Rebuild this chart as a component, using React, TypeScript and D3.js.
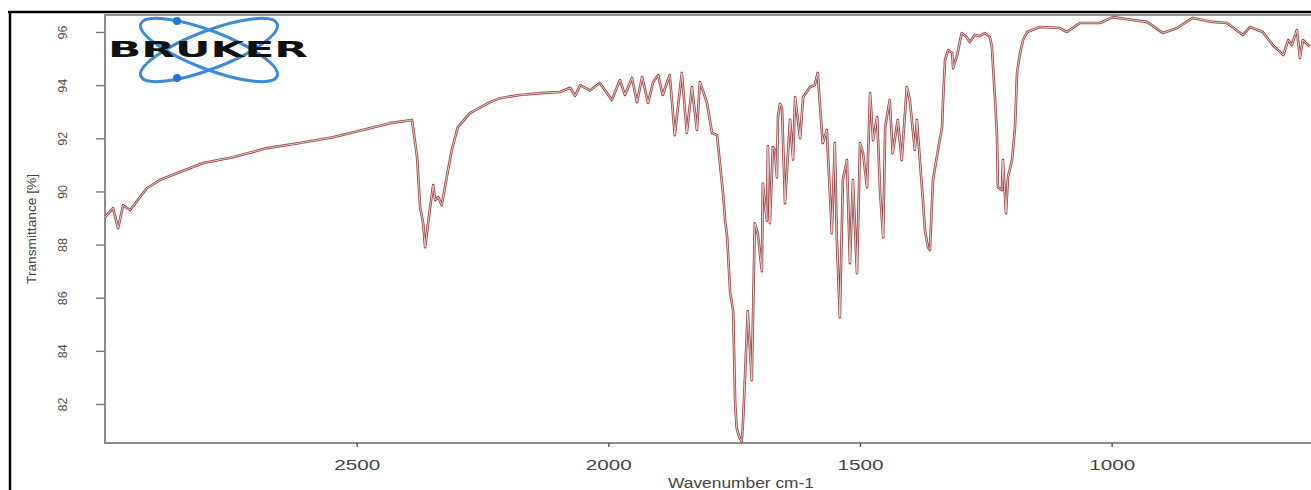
import React, { useEffect, useRef } from 'react'
import * as d3 from 'd3'

// wavenumber (cm-1) / transmittance (%)
const wavenumber = [
  3000, 2984, 2974, 2964, 2950, 2917, 2891, 2851, 2805, 2746, 2678, 2613, 2547, 2480, 2434,
  2390, 2380, 2374, 2368, 2364, 2358, 2354, 2348, 2344, 2338, 2331, 2321, 2311, 2299, 2275,
  2235, 2215, 2176, 2135, 2096, 2076, 2066, 2056, 2037, 2017, 1993, 1977, 1967, 1953, 1943,
  1933, 1921, 1911, 1901, 1892, 1878, 1868, 1854, 1844, 1834, 1824, 1818, 1804, 1794, 1784,
  1778, 1772, 1768, 1764, 1758, 1752, 1748, 1745, 1739, 1735, 1733, 1729, 1723, 1715, 1713,
  1709, 1703, 1695, 1693, 1685, 1683, 1679, 1673, 1669, 1665, 1663, 1659, 1655, 1649, 1639,
  1633, 1629, 1619, 1613, 1599, 1590, 1584, 1576, 1574, 1566, 1556, 1550, 1546, 1540, 1534,
  1526, 1520, 1514, 1506, 1500, 1494, 1486, 1480, 1474, 1466, 1460, 1454, 1450, 1441, 1435,
  1425, 1417, 1407, 1401, 1391, 1387, 1381, 1375, 1371, 1365, 1361, 1355, 1345, 1337, 1335,
  1331, 1325, 1317, 1315, 1307, 1298, 1288, 1282, 1272, 1262, 1252, 1242, 1238, 1232, 1228,
  1226, 1218, 1216, 1210, 1206, 1198, 1192, 1188, 1182, 1176, 1168, 1143, 1103, 1089, 1063,
  1023, 998, 958, 930, 898, 870, 839, 799, 771, 739, 725, 700, 680, 659, 649,
  642, 632, 626, 620, 606,
]
const transmittance = [
  89.03, 89.37, 88.62, 89.48, 89.3, 90.12, 90.43, 90.73, 91.07, 91.29, 91.63, 91.82, 92.04, 92.35, 92.57,
  92.69, 91.29, 89.41, 88.81, 87.9, 88.81, 89.41, 90.24, 89.67, 89.79, 89.48, 90.54, 91.56, 92.42, 92.95,
  93.36, 93.51, 93.63, 93.7, 93.74, 93.9, 93.6, 94.0, 93.8, 94.08, 93.44, 94.19, 93.63, 94.27, 93.36,
  94.31, 93.33, 94.12, 94.38, 93.63, 94.38, 92.12, 94.46, 92.2, 93.93, 92.31, 94.12, 93.33, 92.2, 92.12,
  91.0, 89.9, 88.9, 88.3, 86.2, 85.5, 82.0, 81.1, 80.7, 80.6, 81.1, 82.8, 85.5, 82.9, 84.9,
  88.8, 88.4, 87.0, 90.3, 88.9, 91.7, 88.8, 91.67, 91.56, 90.54, 92.8, 93.3, 93.14, 89.56, 92.7,
  91.2, 93.55, 92.0, 93.55, 93.93, 94.0, 94.46, 92.31, 91.82, 92.31, 88.43, 91.82, 88.17, 85.27, 90.43,
  91.18, 87.3, 90.43, 86.92, 91.82, 91.44, 90.16, 93.7, 91.93, 92.8, 89.94, 88.28, 92.42, 93.44, 91.44,
  92.69, 91.18, 93.93, 93.44, 91.56, 92.69, 91.18, 89.67, 88.54, 87.9, 87.8, 90.43, 91.56, 92.42, 93.44,
  94.95, 95.32, 95.21, 94.64, 95.13, 95.96, 95.81, 95.62, 95.89, 95.85, 95.96, 95.81, 95.44, 93.55, 92.2,
  90.16, 90.05, 91.18, 89.18, 90.54, 91.18, 92.42, 94.46, 95.21, 95.7, 96.0, 96.19, 96.15, 96.0, 96.34,
  96.34, 96.56, 96.45, 96.38, 95.96, 96.15, 96.53, 96.38, 96.34, 95.89, 96.19, 96.0, 95.51, 95.13, 95.7,
  95.51, 96.08, 95.02, 95.7, 95.44,
]
const xTicks = [2500, 2000, 1500, 1000]
const yTicks = [82, 84, 86, 88, 90, 92, 94, 96]

export default function App() {
  const ref = useRef<SVGSVGElement>(null)

  useEffect(() => {
    const width = 1311,
      plotLeft = 105,
      plotTop = 15,
      plotBottom = 443

    const svg = d3.select(ref.current)
    svg.selectAll('*').remove()

    const x = d3.scaleLinear().domain([3000, 600]).range([105, 1313])
    const y = d3.scaleLinear().domain([82, 96]).range([404, 32])

    // outer frame
    svg.append('line').attr('x1', 8).attr('x2', width).attr('y1', 12).attr('y2', 12)
      .attr('stroke', '#000').attr('stroke-width', 2.5)
    svg.append('line').attr('x1', 10).attr('x2', 10).attr('y1', 12).attr('y2', 490)
      .attr('stroke', '#000').attr('stroke-width', 2.5)

    // plot box
    svg.append('path')
      .attr('d', `M${width},${plotTop}H${plotLeft}V${plotBottom}H${width}`)
      .attr('fill', 'none').attr('stroke', '#8c8c8c').attr('stroke-width', 2)

    // y axis
    const yAxis = svg.append('g').attr('transform', `translate(${plotLeft},0)`)
      .call(d3.axisLeft(y).tickValues(yTicks).tickSize(9).tickPadding(0))
    yAxis.select('.domain').remove()
    yAxis.selectAll('.tick line').attr('stroke', '#777').attr('stroke-width', 1.4)
    yAxis.selectAll('.tick text')
      .attr('x', null).attr('dy', null)
      .attr('transform', 'translate(-38,0) rotate(-90)')
      .attr('text-anchor', 'middle')
      .attr('font-family', 'Liberation Sans, Arial, sans-serif')
      .attr('font-size', 13)
      .attr('fill', '#555')
      .attr('textLength', 14)
      .attr('lengthAdjust', 'spacingAndGlyphs')

    // x axis
    const xAxis = svg.append('g').attr('transform', `translate(0,${plotBottom})`)
      .call(d3.axisBottom(x).tickValues(xTicks).tickFormat(d3.format('d')).tickSize(4).tickPadding(0))
    xAxis.select('.domain').remove()
    xAxis.selectAll('.tick line').attr('stroke', '#555').attr('stroke-width', 1.4)
    xAxis.selectAll('.tick text')
      .attr('y', 27).attr('dy', null)
      .attr('font-family', 'Liberation Sans, Arial, sans-serif')
      .attr('font-size', 15)
      .attr('fill', '#444')
      .attr('textLength', 46)
      .attr('lengthAdjust', 'spacingAndGlyphs')

    svg.append('text')
      .attr('x', 741).attr('y', 488)
      .attr('text-anchor', 'middle')
      .attr('font-family', 'Liberation Sans, Arial, sans-serif')
      .attr('font-size', 14)
      .attr('fill', '#444')
      .attr('textLength', 146)
      .attr('lengthAdjust', 'spacingAndGlyphs')
      .text('Wavenumber cm-1')

    svg.append('text')
      .attr('transform', 'translate(36,229) rotate(-90)')
      .attr('text-anchor', 'middle')
      .attr('font-family', 'Liberation Sans, Arial, sans-serif')
      .attr('font-size', 12)
      .attr('fill', '#444')
      .attr('textLength', 110)
      .attr('lengthAdjust', 'spacingAndGlyphs')
      .text('Transmittance [%]')

    // spectrum
    const pts = wavenumber.map((w, i) => [w, transmittance[i]] as [number, number])
    const line = d3.line<[number, number]>().x(d => x(d[0])).y(d => y(d[1]))

    svg.append('clipPath').attr('id', 'plot-clip')
      .append('rect').attr('x', plotLeft).attr('y', plotTop).attr('width', width - plotLeft).attr('height', plotBottom - plotTop)

    svg.append('path').datum(pts)
      .attr('clip-path', 'url(#plot-clip)')
      .attr('fill', 'none').attr('stroke', '#9a4444').attr('stroke-width', 2.6)
      .attr('stroke-linejoin', 'round')
      .attr('d', line)
    svg.append('path').datum(pts)
      .attr('clip-path', 'url(#plot-clip)')
      .attr('fill', 'none').attr('stroke', '#eed6d6').attr('stroke-width', 0.9)
      .attr('stroke-linejoin', 'round')
      .attr('d', line)

    // logo
    const logo = svg.append('g').attr('transform', 'translate(209,50)')
    ;[21, -21].forEach(a => {
      logo.append('ellipse')
        .attr('rx', 73).attr('ry', 19)
        .attr('transform', `rotate(${a})`)
        .attr('fill', 'none').attr('stroke', '#3d8bd6').attr('stroke-width', 3)
    })
    logo.append('circle').attr('cx', -32).attr('cy', -29).attr('r', 4).attr('fill', '#2275d0')
    logo.append('circle').attr('cx', -32).attr('cy', 28).attr('r', 4).attr('fill', '#2275d0')
    svg.append('text')
      .attr('x', 108).attr('y', 57)
      .attr('font-family', 'DejaVu Sans, sans-serif')
      .attr('font-weight', 'bold')
      .attr('font-size', 21)
      .attr('fill', '#111')
      .attr('textLength', 200)
      .attr('lengthAdjust', 'spacingAndGlyphs')
      .text('BRUKER')
  }, [])

  return (
    <svg
      ref={ref}
      width={1311}
      height={490}
      style={{ position: 'absolute', left: 0, top: 0, background: '#fff' }}
    />
  )
}
